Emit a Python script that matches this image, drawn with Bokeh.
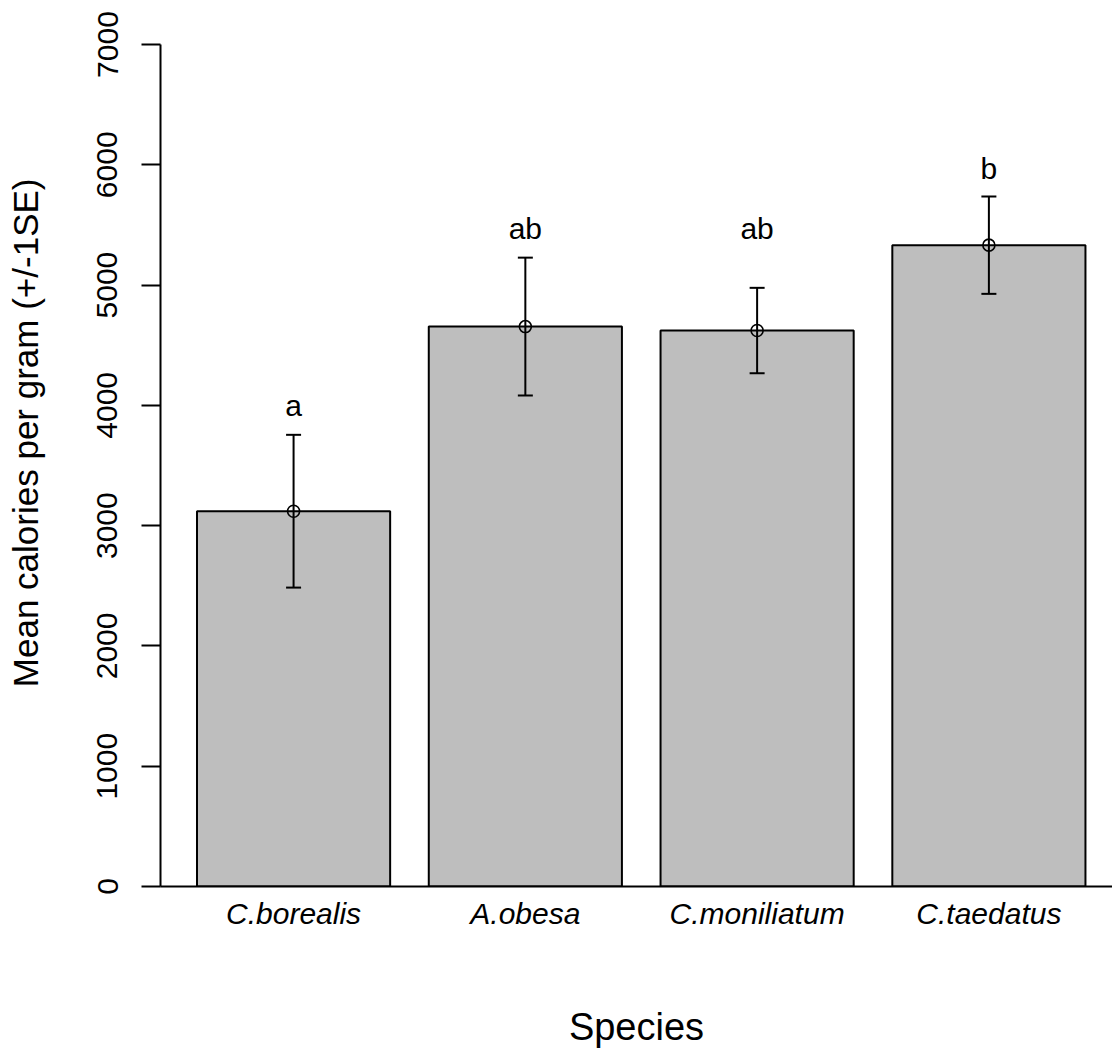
from bokeh.core.properties import value
from bokeh.embed import file_html
from bokeh.models import (ColumnDataSource, FixedTicker, LinearAxis, Range1d, TeeHead,
                          Title, Whisker)
from bokeh.plotting import figure
from bokeh.resources import INLINE

# Mean energy content per species with its standard error
species = ["C.borealis", "A.obesa", "C.moniliatum", "C.taedatus"]
mean_cal = [3120, 4655, 4622, 5332]
se_cal = [635, 573, 355, 405]

# Significance groups and the height at which each letter is written
groups = ["a", "ab", "ab", "b"]
group_y = [4030, 5500, 5500, 6000]

y_ticks = [0, 1000, 2000, 3000, 4000, 5000, 6000, 7000]

FONT = "Liberation Sans"
BAR_WIDTH = 1.0
BAR_SPACE = 0.2

centers = [BAR_SPACE + BAR_WIDTH / 2 + i * (BAR_WIDTH + BAR_SPACE) for i in range(len(species))]

src = ColumnDataSource(dict(
    x=centers,
    mean=mean_cal,
    lower=[m - s for m, s in zip(mean_cal, se_cal)],
    upper=[m + s for m, s in zip(mean_cal, se_cal)],
    grp=groups,
    grp_y=group_y,
))

p = figure(
    width=1112, height=1051,
    x_range=Range1d(0.011, 4.94), y_range=Range1d(0, 7000),
    output_backend="svg", toolbar_location=None,
    min_border_left=160, min_border_right=0, min_border_top=44, min_border_bottom=165,
)
p.outline_line_color = None
p.xgrid.visible = False
p.ygrid.visible = False
p.background_fill_color = "white"
p.border_fill_color = "white"

# Bars
p.vbar(x="x", top="mean", bottom=0, width=BAR_WIDTH, source=src,
       fill_color="#BEBEBE", line_color="black", line_width=2)

# +/- 1 SE error bars, drawn over the bars
whisk = Whisker(base="x", lower="lower", upper="upper", source=src,
                line_color="black", line_width=2, level="overlay",
                upper_head=TeeHead(size=15, line_color="black", line_width=2),
                lower_head=TeeHead(size=15, line_color="black", line_width=2))
p.add_layout(whisk)

# Open circles at the means
p.scatter(x="x", y="mean", source=src, marker="circle", size=12,
          fill_color=None, line_color="black", line_width=1.6, level="overlay")

# Group letters
p.text(x="x", y="grp_y", text="grp", source=src,
       text_align="center", text_baseline="alphabetic", y_offset=3.6,
       text_font=value(FONT), text_font_size="30px", text_color="black")

# Y axis
yax = p.yaxis[0]
yax.ticker = FixedTicker(ticks=y_ticks)
yax.minor_tick_line_color = None
yax.major_tick_in = 0
yax.major_tick_out = 19
yax.major_tick_line_width = 2
yax.axis_line_width = 2
yax.major_label_orientation = "vertical"
yax.major_label_standoff = 24
yax.major_label_text_font = FONT
yax.major_label_text_font_size = "30px"
yax.major_label_text_color = "black"

# Undrawn axis (no line, hidden tick, empty label): it only keeps a gap
# between the tick labels and the y title
gap = LinearAxis(ticker=FixedTicker(ticks=[3500]), major_label_overrides={3500: ""},
                 major_tick_in=0, major_tick_out=49, major_label_standoff=0,
                 minor_tick_in=0, minor_tick_out=0, axis_line_color=None,
                 major_tick_line_color=None, minor_tick_line_color=None)
p.add_layout(gap, "left")

# Y title, placed from the top of the frame
p.add_layout(Title(
    text="Mean calories per gram (+/-1SE)", align="right", offset=134,
    vertical_align="middle", standoff=0,
    text_font=FONT, text_font_size="35px", text_font_style="normal",
    text_color="black",
), "left")

# X axis with species names under the bars
xax = p.xaxis[0]
xax.ticker = FixedTicker(ticks=centers)
xax.major_label_overrides = {c: s for c, s in zip(centers, species)}
xax.minor_tick_line_color = None
xax.major_tick_line_color = None
xax.major_tick_in = 0
xax.major_tick_out = 0
xax.axis_line_width = 2
xax.major_label_standoff = 10
xax.major_label_text_font = FONT
xax.major_label_text_font_style = "italic"
xax.major_label_text_font_size = "30px"
xax.major_label_text_color = "black"
xax.axis_label = "Species"
xax.axis_label_text_font = FONT
xax.axis_label_text_font_style = "normal"
xax.axis_label_text_font_size = "38px"
xax.axis_label_text_color = "black"
xax.axis_label_standoff = 73

open("out.html", "w").write(file_html(p, INLINE))
